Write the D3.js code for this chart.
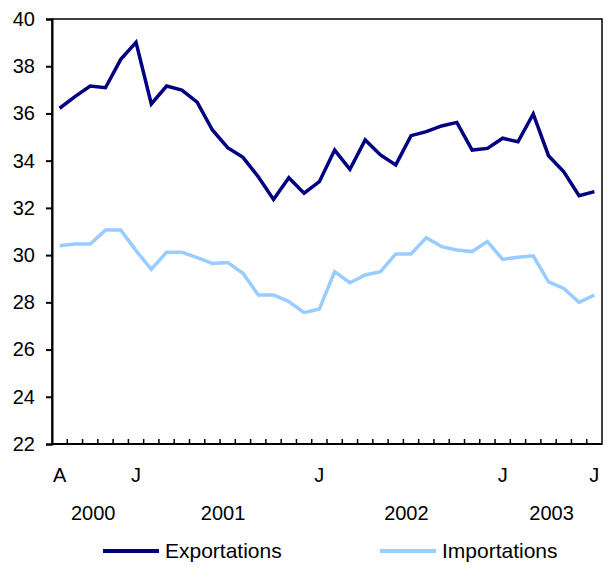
<!DOCTYPE html>
<html>
<head>
<meta charset="utf-8">
<script src="https://cdn.jsdelivr.net/npm/d3@7"></script>
<style>
  body { margin: 0; background: #fff; }
  svg text { font-family: "Liberation Sans", Arial, sans-serif; fill: #000; }
</style>
</head>
<body>
<svg id="chart"></svg>
<script>
// monthly values, Aug 2000 - Jul 2003
var exportations = [36.22, 36.71, 37.16, 37.09, 38.29, 39.01, 36.40, 37.16, 36.99, 36.48,
  35.30, 34.55, 34.14, 33.32, 32.36, 33.28, 32.62, 33.11, 34.45, 33.63,
  34.88, 34.24, 33.82, 35.06, 35.23, 35.47, 35.62, 34.45, 34.52, 34.95,
  34.80, 35.98, 34.21, 33.53, 32.52, 32.69];
var importations = [30.40, 30.47, 30.47, 31.06, 31.06, 30.19, 29.40, 30.12, 30.12, 29.89,
  29.65, 29.69, 29.23, 28.31, 28.31, 28.03, 27.56, 27.72, 29.30, 28.83,
  29.16, 29.30, 30.05, 30.05, 30.74, 30.36, 30.22, 30.15, 30.57, 29.82,
  29.91, 29.97, 28.87, 28.59, 28.00, 28.31];
var months = d3.timeMonth.range(new Date(2000, 7, 1), new Date(2003, 7, 1));
var monthLabels = { 0: "A", 5: "J", 17: "J", 29: "J", 35: "J" };
var years = [2000, 2001, 2002, 2003];
var yTicks = [22, 24, 26, 28, 30, 32, 34, 36, 38, 40];
var series = [
  { name: "Exportations", values: exportations, color: "#000080" },
  { name: "Importations", values: importations, color: "#99ccff" }
];

var W = 610, H = 569;
var margin = { top: 19, right: 8, bottom: 125, left: 52 },
  width = W - margin.left - margin.right,
  height = H - margin.top - margin.bottom;

var svg = d3.select("#chart")
  .attr("width", W)
  .attr("height", H);
var g = svg.append("g")
  .attr("transform", "translate(" + margin.left + "," + margin.top + ")");

var x = d3.scaleBand()
  .domain(d3.range(months.length))
  .range([0, width]);
var y = d3.scaleLinear()
  .domain([22, 40])
  .range([height, 0]);

var line = d3.line()
  .x(function(d, i) { return x(i) + x.bandwidth() / 2; })
  .y(function(d) { return y(d); });

// frame
g.append("rect")
  .attr("width", width)
  .attr("height", height)
  .attr("fill", "none")
  .attr("stroke", "#000")
  .attr("stroke-width", 1.5);

// y axis
var yAxis = g.append("g")
  .call(d3.axisLeft(y).tickValues(yTicks).tickSize(6).tickPadding(11));
yAxis.select(".domain").attr("stroke-width", 2);
yAxis.selectAll(".tick line").attr("stroke-width", 2);
yAxis.selectAll("text").style("font-size", "20px");

// x axis: month ticks at band boundaries
var xAxis = g.append("g")
  .attr("transform", "translate(0," + height + ")");
xAxis.append("line")
  .attr("x1", 0).attr("x2", width)
  .attr("stroke", "#000").attr("stroke-width", 2);
xAxis.selectAll(".mtick")
  .data(d3.range(1, months.length))
  .enter().append("line")
  .attr("class", "mtick")
  .attr("x1", function(i) { return x(i); })
  .attr("x2", function(i) { return x(i); })
  .attr("y1", 0).attr("y2", -5)
  .attr("stroke", "#000").attr("stroke-width", 1.5);

xAxis.selectAll(".mlabel")
  .data(Object.keys(monthLabels).map(Number))
  .enter().append("text")
  .attr("class", "mlabel")
  .attr("x", function(i) { return x(i) + x.bandwidth() / 2; })
  .attr("y", 38)
  .attr("text-anchor", "middle")
  .style("font-size", "20px")
  .text(function(i) { return monthLabels[i]; });

xAxis.selectAll(".ylabel")
  .data(years)
  .enter().append("text")
  .attr("class", "ylabel")
  .attr("x", function(yr) {
    var idx = d3.range(months.length).filter(function(i) { return months[i].getFullYear() === yr; });
    return x(idx[0]) + (x(idx[idx.length - 1]) + x.bandwidth() - x(idx[0])) / 2 + 3;
  })
  .attr("y", 76)
  .attr("text-anchor", "middle")
  .style("font-size", "20px")
  .text(function(yr) { return yr; });

// lines
g.selectAll(".series")
  .data(series)
  .enter().append("path")
  .attr("class", "series")
  .attr("fill", "none")
  .attr("stroke", function(d) { return d.color; })
  .attr("stroke-width", 3.5)
  .attr("stroke-linejoin", "miter")
  .attr("d", function(d) { return line(d.values); });

// legend
var legendX = [103, 380];
var legend = svg.selectAll(".legend")
  .data(series)
  .enter().append("g")
  .attr("class", "legend")
  .attr("transform", function(d, i) { return "translate(" + legendX[i] + ",551)"; });
legend.append("line")
  .attr("x1", 0).attr("x2", 56)
  .attr("stroke", function(d) { return d.color; })
  .attr("stroke-width", 4);
legend.append("text")
  .attr("x", 62)
  .attr("y", 7)
  .style("font-size", "21px")
  .text(function(d) { return d.name; });
</script>
</body>
</html>
